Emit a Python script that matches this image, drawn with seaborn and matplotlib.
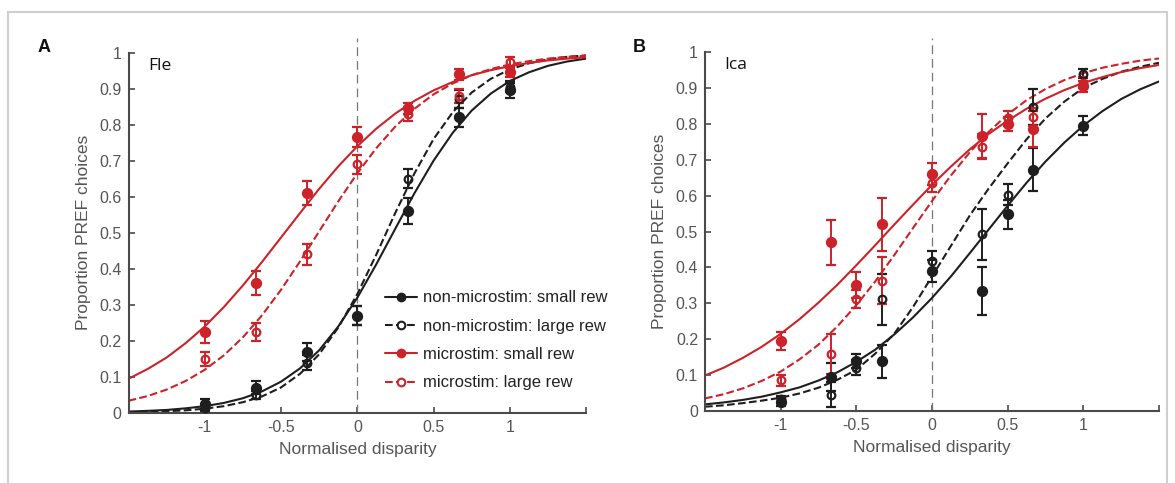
import numpy as np
import pandas as pd
import matplotlib
matplotlib.use("Agg")
import matplotlib.pyplot as plt
import seaborn as sns
from matplotlib.lines import Line2D
from matplotlib.patches import Rectangle

# ---- data ----
series_names = ["non-microstim: small rew", "non-microstim: large rew",
                "microstim: small rew", "microstim: large rew"]

# panel A (Fle)
fle_x = [-1, -0.667, -0.333, 0, 0.333, 0.667, 1]
fle_y = {
    "non-microstim: small rew": [0.025, 0.07, 0.17, 0.27, 0.56, 0.82, 0.895],
    "non-microstim: large rew": [0.015, 0.05, 0.14, 0.27, 0.65, 0.87, 0.905],
    "microstim: small rew": [0.225, 0.36, 0.61, 0.765, 0.845, 0.94, 0.945],
    "microstim: large rew": [0.15, 0.225, 0.44, 0.69, 0.83, 0.88, 0.975],
}
fle_err = {
    "non-microstim: small rew": [0.015, 0.018, 0.025, 0.027, 0.037, 0.027, 0.02],
    "non-microstim: large rew": [0.01, 0.012, 0.02, 0.027, 0.027, 0.025, 0.015],
    "microstim: small rew": [0.03, 0.033, 0.033, 0.027, 0.015, 0.015, 0.012],
    "microstim: large rew": [0.02, 0.025, 0.03, 0.027, 0.02, 0.02, 0.012],
}

# panel B (Ica)
ica_x = [-1, -0.667, -0.5, -0.333, 0, 0.333, 0.5, 0.667, 1]
ica_y = {
    "non-microstim: small rew": [0.025, 0.095, 0.14, 0.138, 0.39, 0.334, 0.548, 0.672, 0.795],
    "non-microstim: large rew": [0.033, 0.045, 0.121, 0.311, 0.417, 0.492, 0.603, 0.848, 0.94],
    "microstim: small rew": [0.195, 0.47, 0.351, 0.52, 0.66, 0.766, 0.80, 0.786, 0.905],
    "microstim: large rew": [0.086, 0.159, 0.313, 0.363, 0.636, 0.736, 0.815, 0.818, 0.915],
}
ica_err = {
    "non-microstim: small rew": [0.01, 0.04, 0.02, 0.045, 0.03, 0.067, 0.04, 0.06, 0.027],
    "non-microstim: large rew": [0.01, 0.035, 0.02, 0.07, 0.03, 0.07, 0.03, 0.05, 0.012],
    "microstim: small rew": [0.025, 0.063, 0.035, 0.073, 0.03, 0.06, 0.02, 0.05, 0.015],
    "microstim: large rew": [0.015, 0.055, 0.025, 0.065, 0.025, 0.035, 0.02, 0.025, 0.015],
}

# fitted psychometric curves, sampled off the figure every 0.125
curve_x = [-1.5, -1.375, -1.25, -1.125, -1, -0.875, -0.75, -0.625, -0.5, -0.375,
           -0.25, -0.125, 0, 0.125, 0.25, 0.375, 0.5, 0.625, 0.75, 0.875,
           1, 1.125, 1.25, 1.375, 1.5]
fle_curve = {
    "non-microstim: small rew": [0.004, 0.006, 0.0085, 0.013, 0.019, 0.028, 0.041, 0.06, 0.087, 0.124,
                                 0.174, 0.24, 0.32, 0.413, 0.512, 0.61, 0.70, 0.777, 0.839, 0.886,
                                 0.921, 0.945, 0.963, 0.975, 0.983],
    "non-microstim: large rew": [0.002, 0.003, 0.005, 0.0075, 0.012, 0.019, 0.03, 0.046, 0.071, 0.109,
                                 0.163, 0.237, 0.33, 0.44, 0.556, 0.665, 0.76, 0.834, 0.889, 0.927,
                                 0.953, 0.97, 0.981, 0.988, 0.992],
    "microstim: small rew": [0.095, 0.122, 0.154, 0.194, 0.24, 0.294, 0.354, 0.419, 0.487, 0.555,
                             0.622, 0.684, 0.74, 0.789, 0.831, 0.866, 0.895, 0.918, 0.937, 0.951,
                             0.962, 0.971, 0.978, 0.983, 0.987],
    "microstim: large rew": [0.034, 0.047, 0.065, 0.089, 0.12, 0.16, 0.21, 0.271, 0.342, 0.421,
                             0.504, 0.587, 0.665, 0.735, 0.795, 0.844, 0.884, 0.914, 0.937, 0.954,
                             0.967, 0.976, 0.983, 0.988, 0.991],
}
ica_curve = {
    "non-microstim: small rew": [0.0185, 0.024, 0.031, 0.04, 0.052, 0.066, 0.085, 0.108, 0.137, 0.171,
                                 0.213, 0.261, 0.315, 0.375, 0.44, 0.506, 0.572, 0.636, 0.695, 0.748,
                                 0.795, 0.835, 0.869, 0.896, 0.918],
    "non-microstim: large rew": [0.012, 0.016, 0.022, 0.029, 0.037, 0.049, 0.065, 0.087, 0.115, 0.16,
                                 0.215, 0.29, 0.375, 0.46, 0.545, 0.62, 0.69, 0.757, 0.815, 0.862,
                                 0.9, 0.925, 0.945, 0.959, 0.97],
    "microstim: small rew": [0.099, 0.121, 0.148, 0.179, 0.215, 0.256, 0.302, 0.352, 0.406, 0.462,
                             0.519, 0.575, 0.63, 0.681, 0.729, 0.772, 0.809, 0.842, 0.87, 0.894,
                             0.914, 0.93, 0.944, 0.955, 0.964],
    "microstim: large rew": [0.035, 0.047, 0.063, 0.084, 0.11, 0.144, 0.185, 0.236, 0.295, 0.361,
                             0.434, 0.51, 0.585, 0.656, 0.721, 0.778, 0.826, 0.866, 0.897, 0.922,
                             0.941, 0.956, 0.967, 0.976, 0.982],
}

x_ticks = [-1.5, -1, -0.5, 0, 0.5, 1, 1.5]
x_ticklabels = ["", "-1", "-0.5", "0", "0.5", "1", ""]
y_ticks = [0, 0.1, 0.2, 0.3, 0.4, 0.5, 0.6, 0.7, 0.8, 0.9, 1]
y_ticklabels = ["0", "0.1", "0.2", "0.3", "0.4", "0.5", "0.6", "0.7", "0.8", "0.9", "1"]

# ---- styles ----
BLACK = "#1e1e1e"
RED = "#cc2229"
style = {
    "non-microstim: small rew": dict(color=BLACK, ls="-", filled=True),
    "non-microstim: large rew": dict(color=BLACK, ls="--", filled=False),
    "microstim: small rew": dict(color=RED, ls="-", filled=True),
    "microstim: large rew": dict(color=RED, ls="--", filled=False),
}

sns.set_style("ticks")
plt.rcParams["font.family"] = ["Liberation Sans", "DejaVu Sans"]
AXCOL = "#4a4a4a"
TXTCOL = "#555555"

fig = plt.figure(figsize=(11.75, 4.83), dpi=100)
ax_a = fig.add_axes([0.1094, 0.1449, 0.3894, 0.7464])
ax_b = fig.add_axes([0.6000, 0.1490, 0.3864, 0.7433])

# light frame around the figure
fig.patches.append(Rectangle((8 / 1175, -0.05), (1167 - 8) / 1175, 1 - 12 / 483 + 0.05,
                             transform=fig.transFigure, fill=False,
                             edgecolor="#cfcfcf", lw=1.5))


def draw_panel(ax, xs, ys, errs, curves, name):
    ax.axvline(0, ymin=0, ymax=1.04, color="#777777", lw=0.9,
               dashes=(7, 4), clip_on=False, zorder=1)
    for s in series_names:
        st = style[s]
        cdf = pd.DataFrame({"x": curve_x, "y": curves[s]})
        sns.lineplot(data=cdf, x="x", y="y", ax=ax, color=st["color"],
                     linestyle=st["ls"], lw=1.5, estimator=None, sort=False,
                     zorder=2)
    for s in series_names:
        st = style[s]
        ax.errorbar(xs, ys[s], yerr=errs[s], fmt="o", color=st["color"],
                    ms=6.5 if st["filled"] else 5.5,
                    mfc=st["color"] if st["filled"] else "none",
                    mec=st["color"], mew=1.6, elinewidth=1.4, capsize=3.5,
                    capthick=1.4, zorder=3)
    ax.set_xlim(-1.5, 1.5)
    ax.set_ylim(0, 1)
    ax.set_xticks(x_ticks)
    ax.set_xticklabels(x_ticklabels)
    ax.set_yticks(y_ticks)
    ax.set_yticklabels(y_ticklabels)
    ax.tick_params(direction="in", length=4.5, width=1.2, color=AXCOL,
                   labelcolor=TXTCOL, labelsize=11.5, pad=5)
    for sp in ["top", "right"]:
        ax.spines[sp].set_visible(False)
    for sp in ["left", "bottom"]:
        ax.spines[sp].set_color(AXCOL)
        ax.spines[sp].set_linewidth(1.5)
    ax.set_xlabel("Normalised disparity", fontsize=12.5, color=TXTCOL, labelpad=5)
    ax.set_ylabel("Proportion PREF choices", fontsize=12.5, color=TXTCOL, labelpad=6)
    ax.text(0.043, 0.985, name, transform=ax.transAxes, ha="left", va="top",
            fontsize=12.5, color="#111111", family=["Open Sans", "DejaVu Sans"])


draw_panel(ax_a, fle_x, fle_y, fle_err, fle_curve, "Fle")
draw_panel(ax_b, ica_x, ica_y, ica_err, ica_curve, "Ica")

fig.text(38 / 1175, 1 - 48 / 483, "A", fontsize=13, fontweight="bold",
         ha="left", va="center", color="#111111")
fig.text(633 / 1175, 1 - 48 / 483, "B", fontsize=13, fontweight="bold",
         ha="left", va="center", color="#111111")

handles = []
for s in series_names:
    st = style[s]
    handles.append(Line2D([0], [0], color=st["color"], ls=st["ls"], lw=1.5,
                          marker="o", ms=5.5,
                          mfc=st["color"] if st["filled"] else "white",
                          mec=st["color"], mew=1.5))
leg = ax_a.legend(handles, series_names, loc="upper left",
                  bbox_to_anchor=(0.561, 0.34), frameon=False, fontsize=12,
                  handlelength=1.9, handletextpad=0.36, labelspacing=0.8,
                  borderpad=0, borderaxespad=0, numpoints=1)
for t in leg.get_texts():
    t.set_color("#222222")

fig.savefig("out.png", dpi=100)
